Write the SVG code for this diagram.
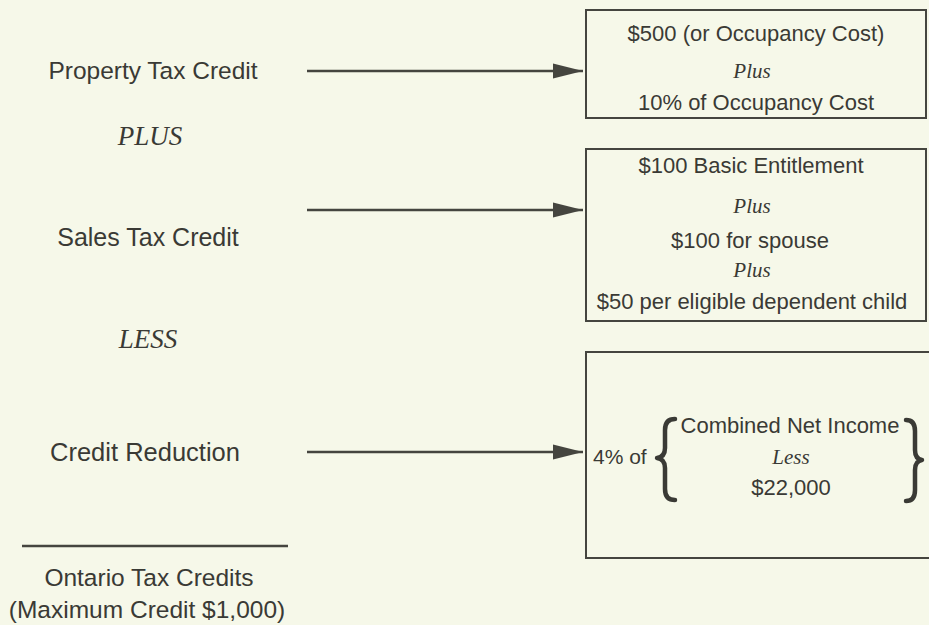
<svg xmlns="http://www.w3.org/2000/svg" width="929" height="625" viewBox="0 0 929 625">
<defs>
<style>
.bg{fill:#f6f8e9}
.s{font-family:"Liberation Sans",Arial,sans-serif;fill:#3a3a35}
.l{font-size:24.5px;text-anchor:middle}
.b{font-size:22px;text-anchor:middle}
.i{font-family:"Liberation Serif","Times New Roman",serif;font-style:italic;fill:#3a3a35;text-anchor:middle}
.box{fill:none;stroke:#45453f;stroke-width:2}
.conn{stroke:#45453f;stroke-width:2.5;fill:none}
.brace{fill:none;stroke:#3a3a35;stroke-width:4.5;stroke-linecap:round;stroke-linejoin:round}
</style>
<marker id="ah" markerUnits="userSpaceOnUse" markerWidth="30" markerHeight="18" refX="30" refY="9" orient="auto">
<path d="M0,1.5 L30,9 L0,16.5 Z" fill="#45453f"/>
</marker>
</defs>
<rect class="bg" x="0" y="0" width="929" height="625"/>

<g id="property-tax-credit"><text class="s l" x="153" y="79" font-size="25">Property Tax Credit</text></g>
<g id="plus-label"><text class="i" x="150" y="145" font-size="27">PLUS</text></g>
<g id="sales-tax-credit"><text class="s l" x="148" y="246" style="font-size:25px">Sales Tax Credit</text></g>
<g id="less-label"><text class="i" x="148" y="348" font-size="27">LESS</text></g>
<g id="credit-reduction"><text class="s l" x="145" y="461" style="font-size:25.5px">Credit Reduction</text></g>
<g id="total">
<line x1="22" y1="546" x2="288" y2="546" stroke="#45453f" stroke-width="2.5"/>
<text class="s l" x="149" y="586">Ontario Tax Credits</text>
<text class="s l" x="147" y="618">(Maximum Credit $1,000)</text>
</g>

<g id="box-property">
<rect class="box" x="586" y="10" width="340" height="108"/>
<text class="s b" x="756" y="41">$500 (or Occupancy Cost)</text>
<text class="i" x="752" y="78" font-size="21">Plus</text>
<text class="s b" x="756" y="110">10% of Occupancy Cost</text>
</g>

<g id="box-sales">
<rect class="box" x="586" y="149" width="340" height="172"/>
<text class="s b" x="751" y="173">$100 Basic Entitlement</text>
<text class="i" x="752" y="213" font-size="21">Plus</text>
<text class="s b" x="750" y="248">$100 for spouse</text>
<text class="i" x="752" y="277" font-size="21">Plus</text>
<text class="s b" x="752" y="309">$50 per eligible dependent child</text>
</g>

<g id="box-reduction">
<rect class="box" x="586" y="352" width="345" height="206"/>
<text class="s" x="593" y="464" font-size="21">4% of</text>
<path class="brace" d="M675,419 Q665,419 665,430 L665,448 Q665,457 657,458 Q665,459 665,468 L665,489 Q665,500 675,500"/>
<text class="s b" x="790" y="433">Combined Net Income</text>
<text class="i" x="791" y="464" font-size="21">Less</text>
<text class="s b" x="791" y="495">$22,000</text>
<path class="brace" d="M906,420 Q915,420 915,431 L915,450 Q915,459 922,460 Q915,461 915,470 L915,490 Q915,501 906,501"/>
</g>

<g id="connectors">
<line class="conn" x1="307" y1="71" x2="583" y2="71" marker-end="url(#ah)"/>
<line class="conn" x1="307" y1="210" x2="583" y2="210" marker-end="url(#ah)"/>
<line class="conn" x1="307" y1="452" x2="583" y2="452" marker-end="url(#ah)"/>
</g>
</svg>
